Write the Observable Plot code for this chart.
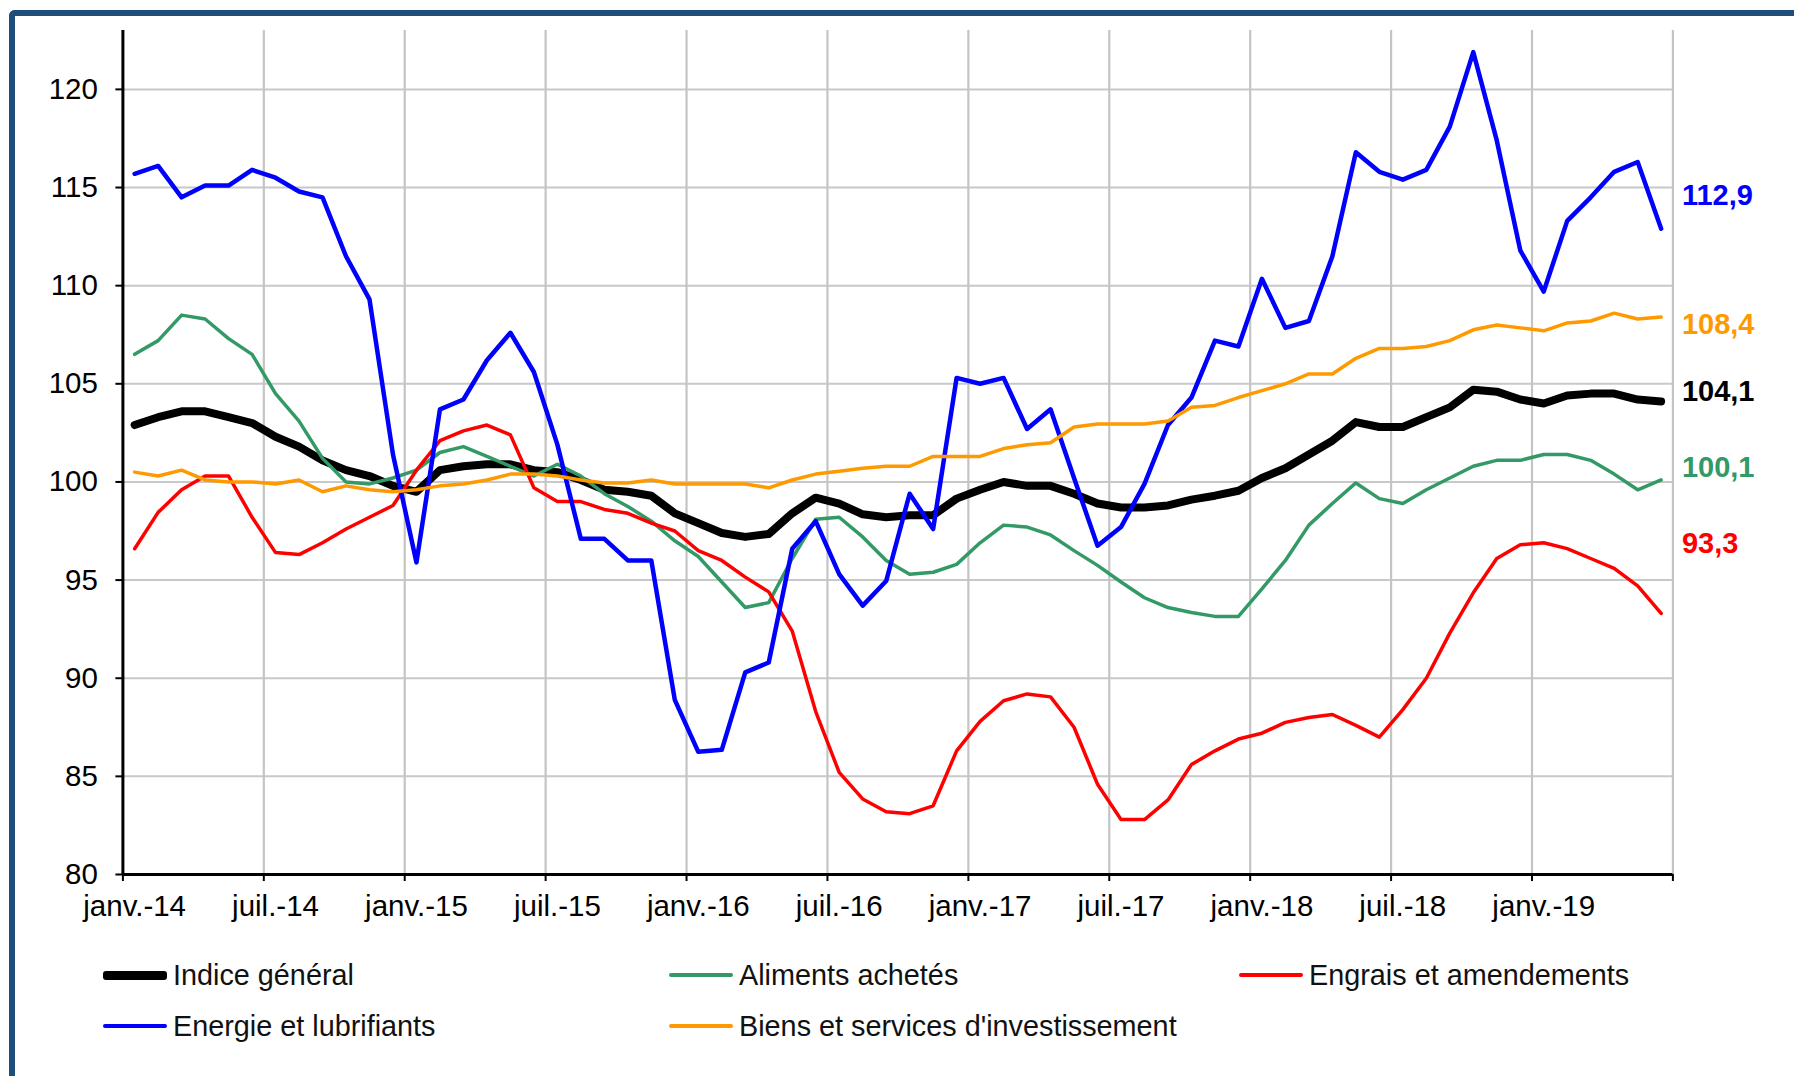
<!DOCTYPE html>
<html lang="fr">
<head>
<meta charset="utf-8">
<script src="https://cdn.jsdelivr.net/npm/d3@7"></script>
<script src="https://cdn.jsdelivr.net/npm/@observablehq/plot@0.6"></script>
<style>
  html, body { margin: 0; padding: 0; background: #fff; }
  body { width: 1794px; height: 1076px; overflow: hidden; position: relative;
         font-family: "Liberation Sans", Arial, sans-serif; }
  #frame { position: absolute; left: 9px; top: 10px; width: 1900px; height: 1200px;
           border-left: 6px solid #1f4e79; border-top: 6px solid #1f4e79;
           border-top-left-radius: 6px; box-sizing: border-box; }
  #chart { position: absolute; left: 0; top: 0; }
  .leg { position: absolute; display: flex; align-items: center; height: 40px;
         font-size: 28.8px; color: #111; white-space: nowrap; }
  .sw { width: 64px; border-radius: 3px; margin-right: 6px; }
</style>
</head>
<body>
<div id="frame"></div>
<div id="chart"></div>
<div id="legend"></div>
<script>
// ---- Data (monthly, janv. 2014 -> juin 2019) ----
const tickLabels = ["janv.-14","juil.-14","janv.-15","juil.-15","janv.-16","juil.-16",
                    "janv.-17","juil.-17","janv.-18","juil.-18","janv.-19"];
const yTicks = [80, 85, 90, 95, 100, 105, 110, 115, 120];

const indiceGeneral = [
  102.9,103.3,103.6,103.6,103.3,103.0,102.3,101.8,101.1,100.6,100.3,99.8,
  99.5,100.6,100.8,100.9,100.9,100.6,100.5,100.1,99.6,99.5,99.3,98.4,
  97.9,97.4,97.2,97.35,98.4,99.2,98.9,98.35,98.2,98.3,98.3,99.15,
  99.6,100.0,99.8,99.8,99.4,98.9,98.7,98.7,98.8,99.1,99.3,99.55,
  100.2,100.7,101.4,102.1,103.05,102.8,102.8,103.3,103.8,104.7,104.6,104.2,
  104.0,104.4,104.5,104.5,104.2,104.1];
const alimentsAchetes = [
  106.5,107.2,108.5,108.3,107.3,106.5,104.5,103.1,101.2,100.0,99.9,100.2,
  100.6,101.5,101.8,101.3,100.8,100.3,100.9,100.3,99.4,98.75,98.0,97.0,
  96.2,94.9,93.6,93.85,96.1,98.1,98.2,97.2,96.0,95.3,95.4,95.8,
  96.9,97.8,97.7,97.3,96.5,95.75,94.9,94.1,93.6,93.35,93.15,93.15,
  94.55,96.0,97.8,98.9,99.95,99.15,98.9,99.6,100.2,100.8,101.1,101.1,
  101.4,101.4,101.1,100.4,99.6,100.1];
const engrais = [
  96.6,98.45,99.6,100.3,100.3,98.2,96.4,96.3,96.9,97.6,98.2,98.8,
  100.6,102.1,102.6,102.9,102.4,99.7,99.0,99.0,98.6,98.4,97.9,97.5,
  96.5,96.0,95.15,94.4,92.4,88.3,85.2,83.85,83.2,83.1,83.5,86.3,
  87.8,88.85,89.2,89.05,87.5,84.6,82.8,82.8,83.8,85.6,86.3,86.9,
  87.2,87.75,88.0,88.15,87.6,87.0,88.4,90.0,92.3,94.35,96.1,96.8,
  96.9,96.6,96.1,95.6,94.7,93.3];
const energie = [
  115.7,116.1,114.5,115.1,115.1,115.9,115.5,114.8,114.5,111.5,109.3,101.4,
  95.9,103.7,104.2,106.2,107.6,105.6,101.9,97.1,97.1,96.0,96.0,88.9,
  86.25,86.35,90.3,90.8,96.6,98.0,95.3,93.7,94.95,99.4,97.6,105.3,
  105.0,105.3,102.7,103.7,100.2,96.75,97.7,99.9,102.9,104.3,107.2,106.9,
  110.35,107.85,108.2,111.5,116.8,115.8,115.4,115.9,118.1,121.9,117.4,111.8,
  109.7,113.3,114.5,115.8,116.3,112.9];
const biensServices = [
  100.5,100.3,100.6,100.1,100.0,100.0,99.9,100.1,99.5,99.8,99.6,99.5,
  99.6,99.8,99.9,100.1,100.4,100.4,100.3,100.1,99.95,99.95,100.1,99.9,
  99.9,99.9,99.9,99.7,100.1,100.4,100.55,100.7,100.8,100.8,101.3,101.3,
  101.3,101.7,101.9,102.0,102.8,102.95,102.95,102.95,103.1,103.8,103.9,104.3,
  104.65,105.0,105.5,105.5,106.3,106.8,106.8,106.9,107.2,107.75,108.0,107.85,
  107.7,108.1,108.2,108.6,108.3,108.4];

const seriesNames = ["Indice général","Aliments achetés","Engrais et amendements",
                     "Energie et lubrifiants","Biens et services d'investissement"];
const seriesValues = [indiceGeneral, alimentsAchetes, engrais, energie, biensServices];

// ---- Styles ----
const seriesColors = ["#000000","#339966","#ff0000","#0000ff","#ff9900"];
const seriesWidths = [8, 3.5, 3.5, 4.5, 3.5];
const endLabelDy   = [-10, -12, -70, -33, 8];

const nMonths = indiceGeneral.length;           // 66 categories
const boundaries = d3.range(0, nMonths + 1, 6); // category boundaries (gridlines / ticks)
const labelPos = tickLabels.map((_, i) => i * 6 + 0.5);
const fmt = v => d3.format(".1f")(v).replace(".", ",");

const lineMarks = seriesValues.map((vals, k) =>
  Plot.line(vals.map((v, i) => ({x: i + 0.5, y: v})), {
    x: "x", y: "y", stroke: seriesColors[k], strokeWidth: seriesWidths[k],
    strokeLinejoin: "round", strokeLinecap: "round"
  }));

const labelOrder = [3, 4, 0, 1, 2];
const endLabels = labelOrder.map(k =>
  Plot.text([seriesValues[k][nMonths - 1]], {
    y: d => d, frameAnchor: "right", text: d => fmt(d), fill: seriesColors[k],
    dx: 9, dy: endLabelDy[k], textAnchor: "start", fontWeight: "bold", fontSize: 29
  }));

const chart = Plot.plot({
  width: 1794, height: 934,
  marginLeft: 122.4, marginRight: 121.6, marginTop: 30, marginBottom: 60,
  x: {domain: [0, nMonths], label: null},
  y: {domain: [80, 123], label: null},
  style: {fontFamily: "'Liberation Sans', Arial, sans-serif", fontSize: "29px",
          background: "transparent", color: "#000", overflow: "visible"},
  marks: [
    Plot.ruleY(yTicks.filter(v => v > 80), {stroke: "#c8c8c8", strokeWidth: 2}),
    Plot.ruleX(boundaries.filter(v => v > 0), {stroke: "#c4c4c4", strokeWidth: 2.2}),
    ...lineMarks,
    Plot.ruleX([0], {stroke: "#000", strokeWidth: 3}),
    Plot.ruleY([80], {stroke: "#000", strokeWidth: 3}),
    Plot.axisY({ticks: yTicks, tickSize: 7, tickPadding: 18, strokeWidth: 2,
                tickFormat: d => String(d), fontSize: 29.5}),
    Plot.axisX({ticks: boundaries, tickSize: 7, strokeWidth: 2, tickFormat: () => ""}),
    Plot.axisX({ticks: labelPos, tickSize: 0, tickPadding: 21, fontSize: 29.5,
                tickFormat: d => tickLabels[Math.round((d - 0.5) / 6)]}),
    ...endLabels
  ]
});
document.getElementById("chart").appendChild(chart);

// ---- Legend (HTML, below the SVG) ----
const legendCols = [103, 669, 1239];
const legendRows = [955, 1006];
const legend = document.getElementById("legend");
seriesNames.forEach((name, k) => {
  const item = document.createElement("div");
  item.className = "leg";
  item.style.left = legendCols[k % 3] + "px";
  item.style.top = legendRows[Math.floor(k / 3)] + "px";
  const sw = document.createElement("div");
  sw.className = "sw";
  sw.style.height = (k === 0 ? 9 : 4.5) + "px";
  sw.style.background = seriesColors[k];
  const t = document.createElement("span");
  t.textContent = name;
  item.appendChild(sw);
  item.appendChild(t);
  legend.appendChild(item);
});
</script>
</body>
</html>
